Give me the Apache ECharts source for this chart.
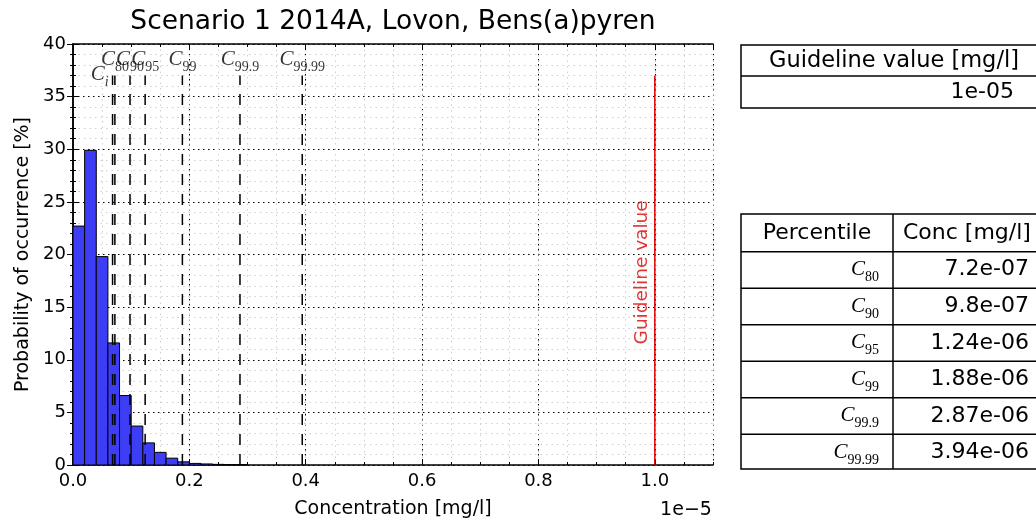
<!DOCTYPE html>
<html>
<head>
<meta charset="utf-8">
<script src="https://cdn.jsdelivr.net/npm/echarts@6/dist/echarts.min.js"></script>
<style>
  html, body { margin: 0; padding: 0; background: #fff; }
  #chart { width: 1036px; height: 524px; }
</style>
</head>
<body>
<div id="chart"></div>
<script>
// histogram bins (mg/l) and probability per bin (%)
var binStarts = [0, 2e-7, 4e-7, 6e-7, 8e-7, 1.0e-6, 1.2e-6, 1.4e-6, 1.6e-6, 1.8e-6, 2.0e-6, 2.2e-6, 2.4e-6, 2.6e-6, 2.8e-6];
var binEnds   = [2e-7, 4e-7, 6e-7, 8e-7, 1.0e-6, 1.2e-6, 1.4e-6, 1.6e-6, 1.8e-6, 2.0e-6, 2.2e-6, 2.4e-6, 2.6e-6, 2.8e-6, 3.0e-6];
var binProb   = [22.7, 29.9, 19.8, 11.6, 6.6, 3.7, 2.1, 1.2, 0.65, 0.3, 0.15, 0.1, 0.06, 0.04, 0.03];

// percentiles
var pctNames  = ['80', '90', '95', '99', '99.9', '99.99'];
var pctValues = [7.2e-7, 9.8e-7, 1.24e-6, 1.88e-6, 2.87e-6, 3.94e-6];
var pctText   = ['7.2e-07', '9.8e-07', '1.24e-06', '1.88e-06', '2.87e-06', '3.94e-06'];
var ciValue = 6.8e-7;

var guideline = 1e-5;
var guidelineText = '1e-05';

var xTickLabels = ['0.0', '0.2', '0.4', '0.6', '0.8', '1.0'];

var myChart = echarts.init(document.getElementById('chart'));

var sans = 'DejaVu Sans';
var serif = 'Liberation Serif';
var mathRich = {
    c: { fontFamily: serif, fontStyle: 'italic', fontSize: 21, lineHeight: 24, color: '#000' },
    s: { fontFamily: serif, fontSize: 14, lineHeight: 14, verticalAlign: 'bottom', color: '#000', padding: [0, 0, -3, 0] },
    si: { fontFamily: serif, fontStyle: 'italic', fontSize: 14, lineHeight: 14, verticalAlign: 'bottom', color: '#000', padding: [0, 0, -3, 0] }
};

var histData = binStarts.map(function (s, i) { return [s, binEnds[i], binProb[i]]; });
var lineData = [[ciValue, 37]].concat(pctValues.map(function (v) { return [v, 37]; }));
var labelData = pctValues.map(function (v, i) { return [v, 38.5, pctNames[i]]; });

var minorGrid = { show: true, lineStyle: { color: '#cfcfcf', type: [1.5, 4], width: 1 } };
var majorGrid = { show: true, lineStyle: { color: '#000', type: [1.5, 3.5], width: 1 } };

// tables on the right
var graphics = [];
function txt(x, y, text, align, size) {
    graphics.push({ type: 'text', x: x, y: y, style: {
        text: text, fontFamily: sans, fontSize: size || 22, fill: '#000',
        align: align || 'left', verticalAlign: 'middle' } });
}
function hline(x1, x2, y) {
    graphics.push({ type: 'line', shape: { x1: x1, y1: y, x2: x2, y2: y }, style: { stroke: '#000', lineWidth: 1.5 } });
}
graphics.push({ type: 'rect', shape: { x: 741, y: 45, width: 330, height: 63 }, style: { fill: 'none', stroke: '#000', lineWidth: 1.5 } });
hline(741, 1071, 76);
txt(894, 61, 'Guideline value [mg/l]', 'center', 22.5);
txt(1014, 92, guidelineText, 'right');

graphics.push({ type: 'rect', shape: { x: 741, y: 214, width: 330, height: 255 }, style: { fill: 'none', stroke: '#000', lineWidth: 1.5 } });
graphics.push({ type: 'line', shape: { x1: 893, y1: 214, x2: 893, y2: 469 }, style: { stroke: '#000', lineWidth: 1.5 } });
var rowLines = [251.7, 288.3, 324.8, 361.3, 397.8, 434.3];
rowLines.forEach(function (y) { hline(741, 1071, y); });
txt(817, 233, 'Percentile', 'center');
txt(903, 233, 'Conc [mg/l]', 'left');
pctNames.forEach(function (n, i) {
    var yc = rowLines[i] + 18;
    graphics.push({ type: 'text', x: 879, y: yc, style: {
        text: '{c|C}{s|' + n + '}', rich: mathRich, align: 'right', verticalAlign: 'middle' } });
    txt(1029, yc, pctText[i], 'right');
});

// title and axis multiplier
txt(393, 22, 'Scenario 1 2014A, Lovon, Bens(a)pyren', 'center', 26.5);
txt(686, 510, '1e\u22125', 'center', 19);

var option = {
    animation: false,
    grid: { left: 73, right: 323, top: 44, bottom: 56 },
    graphic: graphics,
    xAxis: [
        {
            type: 'value', min: 0, max: 1.1e-5, interval: 2e-6, position: 'bottom',
            name: 'Concentration [mg/l]', nameLocation: 'middle', nameGap: 35,
            nameTextStyle: { fontFamily: sans, fontSize: 19, color: '#000' },
            axisLine: { show: true, lineStyle: { color: '#000', width: 1.5 } },
            axisTick: { show: true, inside: true, length: 6, lineStyle: { color: '#000' } },
            axisLabel: {
                fontFamily: sans, fontSize: 18, color: '#000', margin: 7, showMaxLabel: false,
                formatter: function (v) { return xTickLabels[Math.round(v / 2e-6)] || ''; }
            },
            splitLine: majorGrid
        },
        {
            type: 'value', min: 0, max: 1.1e-5, interval: 5e-7, position: 'bottom',
            axisLine: { show: false },
            axisTick: { show: true, inside: true, length: 3, lineStyle: { color: '#000' } },
            axisLabel: { show: false },
            splitLine: minorGrid, z: 0
        },
        {
            type: 'value', min: 0, max: 1.1e-5, interval: 2e-6, position: 'top',
            axisLine: { show: true, lineStyle: { color: '#000', width: 1.5 } },
            axisTick: { show: true, inside: true, length: 6, lineStyle: { color: '#000' } },
            axisLabel: { show: false }, splitLine: { show: false }
        },
        {
            type: 'value', min: 0, max: 1.1e-5, interval: 5e-7, position: 'top',
            axisLine: { show: false },
            axisTick: { show: true, inside: true, length: 3, lineStyle: { color: '#000' } },
            axisLabel: { show: false }, splitLine: { show: false }
        }
    ],
    yAxis: [
        {
            type: 'value', min: 0, max: 40, interval: 5, position: 'left',
            name: 'Probability of occurrence [%]', nameLocation: 'middle', nameGap: 40,
            nameTextStyle: { fontFamily: sans, fontSize: 19, color: '#000' },
            axisLine: { show: true, lineStyle: { color: '#000', width: 1.5 } },
            axisTick: { show: true, inside: true, length: 6, lineStyle: { color: '#000' } },
            minorTick: { show: true, splitNumber: 5, length: 3, lineStyle: { color: '#000' } },
            axisLabel: { fontFamily: sans, fontSize: 18, color: '#000', margin: 7 },
            splitLine: majorGrid,
            minorSplitLine: minorGrid
        },
        {
            type: 'value', min: 0, max: 40, interval: 5, position: 'right',
            axisLine: { show: true, lineStyle: { color: '#000', width: 1.5 } },
            axisTick: { show: true, inside: true, length: 6, lineStyle: { color: '#000' } },
            minorTick: { show: true, splitNumber: 5, length: 3, lineStyle: { color: '#000' } },
            axisLabel: { show: false }, splitLine: { show: false }
        }
    ],
    series: [
        {
            type: 'custom', xAxisIndex: 0, yAxisIndex: 0, z: 3,
            data: histData,
            encode: { x: [0, 1], y: 2 },
            renderItem: function (params, api) {
                var p0 = api.coord([api.value(0), api.value(2)]);
                var p1 = api.coord([api.value(1), 0]);
                return {
                    type: 'rect',
                    shape: { x: p0[0], y: p0[1], width: p1[0] - p0[0], height: p1[1] - p0[1] },
                    style: { fill: '#3d3df5', stroke: '#000', lineWidth: 1 }
                };
            }
        },
        {
            type: 'custom', xAxisIndex: 0, yAxisIndex: 0, z: 4,
            data: lineData,
            encode: { x: 0, y: 1 },
            renderItem: function (params, api) {
                var top = api.coord([api.value(0), api.value(1)]);
                var bot = api.coord([api.value(0), 0]);
                return {
                    type: 'line',
                    shape: { x1: bot[0], y1: bot[1], x2: top[0], y2: top[1] },
                    style: { stroke: '#000', lineWidth: 1.5, lineDash: [11, 9] }
                };
            }
        },
        {
            type: 'custom', xAxisIndex: 0, yAxisIndex: 0, z: 4,
            data: [[guideline, 37]],
            encode: { x: 0, y: 1 },
            renderItem: function (params, api) {
                var top = api.coord([api.value(0), api.value(1)]);
                var bot = api.coord([api.value(0), 0]);
                return {
                    type: 'line',
                    shape: { x1: bot[0], y1: bot[1], x2: top[0], y2: top[1] },
                    style: { stroke: '#e00000', lineWidth: 1.5 }
                };
            }
        },
        {
            type: 'scatter', xAxisIndex: 0, yAxisIndex: 0, symbolSize: 0, z: 5,
            data: labelData,
            label: {
                show: true, position: 'inside',
                formatter: function (p) { return '{c|C}{s|' + p.value[2] + '}'; },
                rich: mathRich
            }
        },
        {
            type: 'scatter', xAxisIndex: 0, yAxisIndex: 0, symbolSize: 0, z: 5,
            data: [[ciValue, 37.1]],
            label: {
                show: true, position: 'left', distance: 4,
                formatter: '{c|C}{si|i}',
                rich: mathRich
            }
        },
        {
            type: 'scatter', xAxisIndex: 0, yAxisIndex: 0, symbolSize: 0, z: 5,
            data: [[guideline, 18.3]],
            label: {
                show: true, position: 'inside', rotate: 90, offset: [0, -13],
                formatter: 'Guideline value',
                fontFamily: sans, fontSize: 18.5, color: '#e00000'
            }
        }
    ]
};
myChart.setOption(option);
window.addEventListener('resize', function () {
    myChart.resize();
});
</script>
</body>
</html>
